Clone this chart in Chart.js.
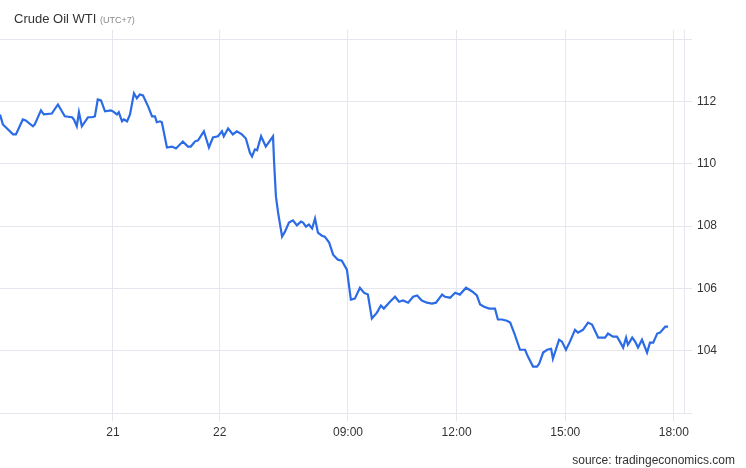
<!DOCTYPE html>
<html>
<head>
<meta charset="utf-8">
<script src="https://cdn.jsdelivr.net/npm/chart.js@4.4.1/dist/chart.umd.min.js"></script>
<style>
  html, body { margin: 0; padding: 0; background: #fff; }
  #wrap { position: relative; width: 746px; height: 468px; font-family: Arial, "Liberation Sans", sans-serif; }
  #title { position: absolute; left: 14px; top: 11px; font-size: 13px; color: #333; }
  #title small { font-size: 9px; color: #888; }
  #source { position: absolute; right: 11px; top: 453px; font-size: 12px; color: #333; }
</style>
</head>
<body>
<div id="wrap">
  <canvas id="chart" width="746" height="468"></canvas>
  <div id="title">Crude Oil WTI <small>(UTC+7)</small></div>
  <div id="source">source: tradingeconomics.com</div>
</div>
<script>
// session hours on a compressed axis (previous days squeezed to the left)
const hours = [
  -0.61, -0.53, -0.25, -0.17, 0.02, 0.10, 0.30, 0.35, 0.52, 0.60,
  0.82, 0.99, 1.18, 1.38, 1.43, 1.51, 1.57, 1.65, 1.82, 1.93,
  2.01, 2.09, 2.18, 2.29, 2.45, 2.51, 2.62, 2.67, 2.76, 2.81,
  2.90, 2.98, 3.09, 3.17, 3.25, 3.34, 3.48, 3.59, 3.67, 3.72,
  3.81, 3.86, 4.00, 4.14, 4.25, 4.44, 4.58, 4.66, 4.77, 4.86,
  5.02, 5.16, 5.27, 5.41, 5.52, 5.57, 5.69, 5.82, 5.93, 6.07,
  6.18, 6.29, 6.35, 6.43, 6.49, 6.60, 6.73, 6.93, 6.96, 7.01,
  7.07, 7.18, 7.26, 7.37, 7.48, 7.59, 7.70, 7.76, 7.84, 7.92,
  8.01, 8.09, 8.17, 8.28, 8.36, 8.48, 8.59, 8.72, 8.83, 8.97,
  9.08, 9.19, 9.33, 9.44, 9.55, 9.66, 9.80, 9.91, 9.99, 10.16,
  10.30, 10.41, 10.52, 10.66, 10.80, 10.91, 11.04, 11.18, 11.32, 11.43,
  11.60, 11.68, 11.82, 11.96, 12.09, 12.26, 12.43, 12.56, 12.65, 12.76,
  12.90, 13.06, 13.14, 13.25, 13.39, 13.48, 13.61, 13.75, 13.89, 13.97,
  14.11, 14.22, 14.28, 14.39, 14.50, 14.61, 14.66, 14.83, 14.91, 15.02,
  15.13, 15.27, 15.35, 15.49, 15.63, 15.74, 15.91, 16.10, 16.18, 16.32,
  16.43, 16.51, 16.60, 16.68, 16.73, 16.85, 16.93, 17.01, 17.12, 17.26,
  17.34, 17.43, 17.54, 17.62, 17.76, 17.84
];
const prices = [
  111.58, 111.26, 110.94, 110.94, 111.42, 111.39, 111.20, 111.26, 111.71, 111.58,
  111.61, 111.90, 111.52, 111.49, 111.42, 111.20, 111.65, 111.20, 111.49, 111.49,
  111.52, 112.06, 112.03, 111.68, 111.71, 111.68, 111.58, 111.65, 111.36, 111.42,
  111.36, 111.58, 112.26, 112.10, 112.22, 112.19, 111.84, 111.52, 111.52, 111.33,
  111.36, 111.33, 110.52, 110.55, 110.49, 110.71, 110.55, 110.55, 110.71, 110.75,
  111.04, 110.52, 110.84, 110.88, 111.04, 110.88, 111.13, 110.94, 111.04, 110.94,
  110.81, 110.36, 110.23, 110.46, 110.43, 110.88, 110.55, 110.88, 110.04, 108.95,
  108.43, 107.66, 107.82, 108.11, 108.18, 108.02, 108.14, 108.11, 107.98, 108.05,
  107.92, 108.24, 107.79, 107.69, 107.66, 107.47, 107.08, 106.92, 106.89, 106.60,
  105.64, 105.67, 106.02, 105.86, 105.80, 105.03, 105.22, 105.45, 105.35, 105.57,
  105.73, 105.57, 105.61, 105.54, 105.73, 105.77, 105.61, 105.54, 105.51, 105.54,
  105.80, 105.73, 105.70, 105.86, 105.80, 106.02, 105.90, 105.77, 105.48, 105.41,
  105.35, 105.35, 105.00, 105.00, 104.96, 104.90, 104.51, 104.03, 104.03, 103.81,
  103.49, 103.49, 103.58, 103.94, 104.03, 104.06, 103.74, 104.35, 104.29, 104.03,
  104.29, 104.67, 104.58, 104.67, 104.90, 104.84, 104.42, 104.42, 104.55, 104.45,
  104.45, 104.29, 104.10, 104.42, 104.19, 104.42, 104.29, 104.10, 104.35, 103.94,
  104.26, 104.26, 104.55, 104.58, 104.77, 104.77
];
const xTickPos = [2.51, 5.46, 9, 12, 15, 18];
const xTickLabels = ["21", "22", "09:00", "12:00", "15:00", "18:00"];
const yTicks = [102, 104, 106, 108, 110, 112, 114];
const yLabelled = [104, 106, 108, 110, 112];

const gridColor = "#e6e6ee";
const font = { family: "Arial, 'Liberation Sans', sans-serif", size: 12 };

new Chart(document.getElementById("chart"), {
  type: "line",
  data: {
    datasets: [{
      data: hours.map((h, i) => ({ x: h, y: prices[i] })),
      borderColor: "#2b6be6",
      borderWidth: 2.2,
      pointRadius: 0,
      tension: 0,
      fill: false
    }]
  },
  options: {
    responsive: false,
    animation: false,
    layout: { padding: { top: 30, left: 0, right: 0, bottom: 0 } },
    plugins: { legend: { display: false }, tooltip: { enabled: false } },
    scales: {
      x: {
        type: "linear",
        min: -0.61,
        max: 18.28,
        afterBuildTicks: (s) => { s.ticks = xTickPos.map(v => ({ value: v })); },
        afterFit: (s) => { s.height = 55; },
        ticks: {
          autoSkip: false,
          maxRotation: 0,
          padding: 4,
          color: "#333",
          font: font,
          callback: (v, i) => xTickLabels[i]
        },
        grid: { color: gridColor, tickLength: 8 },
        border: { display: false }
      },
      y: {
        position: "right",
        min: 102,
        max: 114.29,
        afterBuildTicks: (s) => { s.ticks = yTicks.map(v => ({ value: v })); },
        afterFit: (s) => { s.width = 62; },
        ticks: {
          padding: 5,
          color: "#333",
          font: font,
          callback: (v) => yLabelled.includes(v) ? String(v) : ""
        },
        grid: { color: gridColor, tickLength: 8 },
        border: { display: true, color: gridColor }
      }
    }
  }
});
</script>
</body>
</html>
